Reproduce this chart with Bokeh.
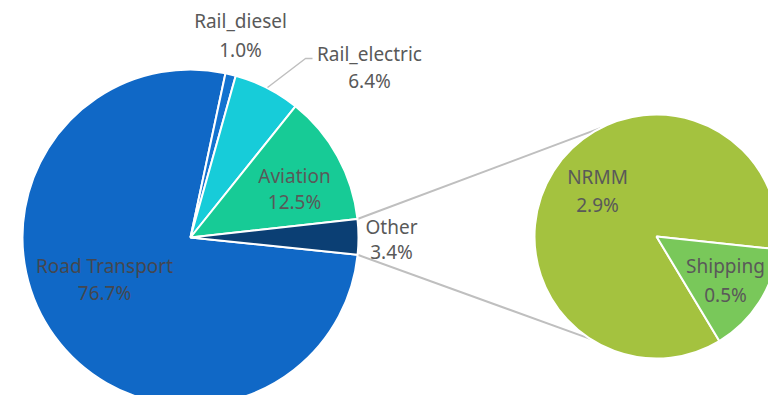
import numpy as np
from bokeh.plotting import figure
from bokeh.models import Range1d, ColumnDataSource
from bokeh.embed import file_html
from bokeh.resources import INLINE
from bokeh.core.properties import value

# ---- data ----
main_labels = ["Road Transport", "Rail_diesel", "Rail_electric", "Aviation", "Other"]
main_values = [76.7, 1.0, 6.4, 12.5, 3.4]
other_labels = ["NRMM", "Shipping"]
other_values = [2.9, 0.5]

# ---- styles ----
main_colors = ["#1068C6", "#1473CF", "#17CCD9", "#17CB96", "#0B3F74"]
other_colors = ["#A4C23F", "#79C85A"]
label_colors_main = ["#44474F", "#595959", "#595959", "#595959", "#595959"]
TEXT = "#595959"
FONT = value("Noto Sans")
FS = "19px"

# ---- layout (screen pixels, y down) ----
PAGE_H = 403
def Y(ys):
    return PAGE_H - np.asarray(ys, dtype=float)

main_cx, main_cy, main_r = 190.0, 237.0, 168.0
sub_cx, sub_cy, sub_r = 656.0, 236.0, 122.0
main_start = 95.9      # clockwise from 12 o'clock, first slice
sub_start = 149.0
main_label_pos = [(104, 265, 292), (240, 20, 49), (369, 53, 80), (294, 175, 201), (391, 226, 251)]
sub_label_pos = [(597, 176, 204), (725, 265, 294)]
sub_line_angles = (332.6, 212.9)

p = figure(width=768, height=395, x_range=Range1d(0, 768), y_range=Range1d(8, 403),
           output_backend="svg", toolbar_location=None, min_border=0)
p.axis.visible = False
p.grid.visible = False
p.outline_line_color = None
p.background_fill_color = "white"
p.border_fill_color = "white"


def wedges(values, start, cx, cy, r, colors):
    vals = np.asarray(values, dtype=float)
    frac = vals / vals.sum() * 360.0
    t1 = start + np.concatenate([[0.0], np.cumsum(frac)[:-1]])
    t2 = t1 + frac
    src = ColumnDataSource(dict(
        s=np.deg2rad(90.0 - t2), e=np.deg2rad(90.0 - t1), c=colors,
        x=[cx] * len(vals), y=[float(Y([cy])[0])] * len(vals)))
    p.wedge(x="x", y="y", radius=r, start_angle="s", end_angle="e", direction="anticlock",
            fill_color="c", line_color="white", line_width=2, source=src)
    return t1, t2


def pt(cx, cy, r, theta):
    th = np.deg2rad(theta)
    return cx + r * np.sin(th), cy - r * np.cos(th)

# connector lines (drawn first, under pies)
vals = np.asarray(main_values)
frac = vals / vals.sum() * 360.0
t1 = main_start + np.concatenate([[0.0], np.cumsum(frac)[:-1]])
t2 = t1 + frac
oth_a, oth_b = t1[-1] % 360, t2[-1] % 360
ax, ay = pt(main_cx, main_cy, main_r, oth_a)
bx, by = pt(main_cx, main_cy, main_r, oth_b)
sx1, sy1 = pt(sub_cx, sub_cy, sub_r, sub_line_angles[0])
sx2, sy2 = pt(sub_cx, sub_cy, sub_r, sub_line_angles[1])
p.segment(x0=[ax, bx], y0=Y([ay, by]), x1=[sx1, sx2], y1=Y([sy1, sy2]),
          line_color="#BFBFBF", line_width=2)

wedges(main_values, main_start, main_cx, main_cy, main_r, main_colors)
wedges(other_values, sub_start, sub_cx, sub_cy, sub_r, other_colors)

# leader line for Rail_electric
p.line(x=[267, 305, 312], y=Y([87, 58, 58]), line_color="#BFBFBF", line_width=1.5)

# labels
def labels(names, values, pos, colors):
    xs = [q[0] for q in pos]
    p.text(x=xs, y=Y([q[1] for q in pos]), text=names, text_font=FONT, text_font_size=FS,
           text_color=colors, text_align="center", text_baseline="middle")
    p.text(x=xs, y=Y([q[2] for q in pos]), text=[f"{v:.1f}%" for v in values], text_font=FONT,
           text_font_size=FS, text_color=colors, text_align="center", text_baseline="middle")

labels(main_labels, main_values, main_label_pos, label_colors_main)
labels(other_labels, other_values, sub_label_pos, [TEXT, TEXT])

open("out.html", "w").write(file_html(p, INLINE))
